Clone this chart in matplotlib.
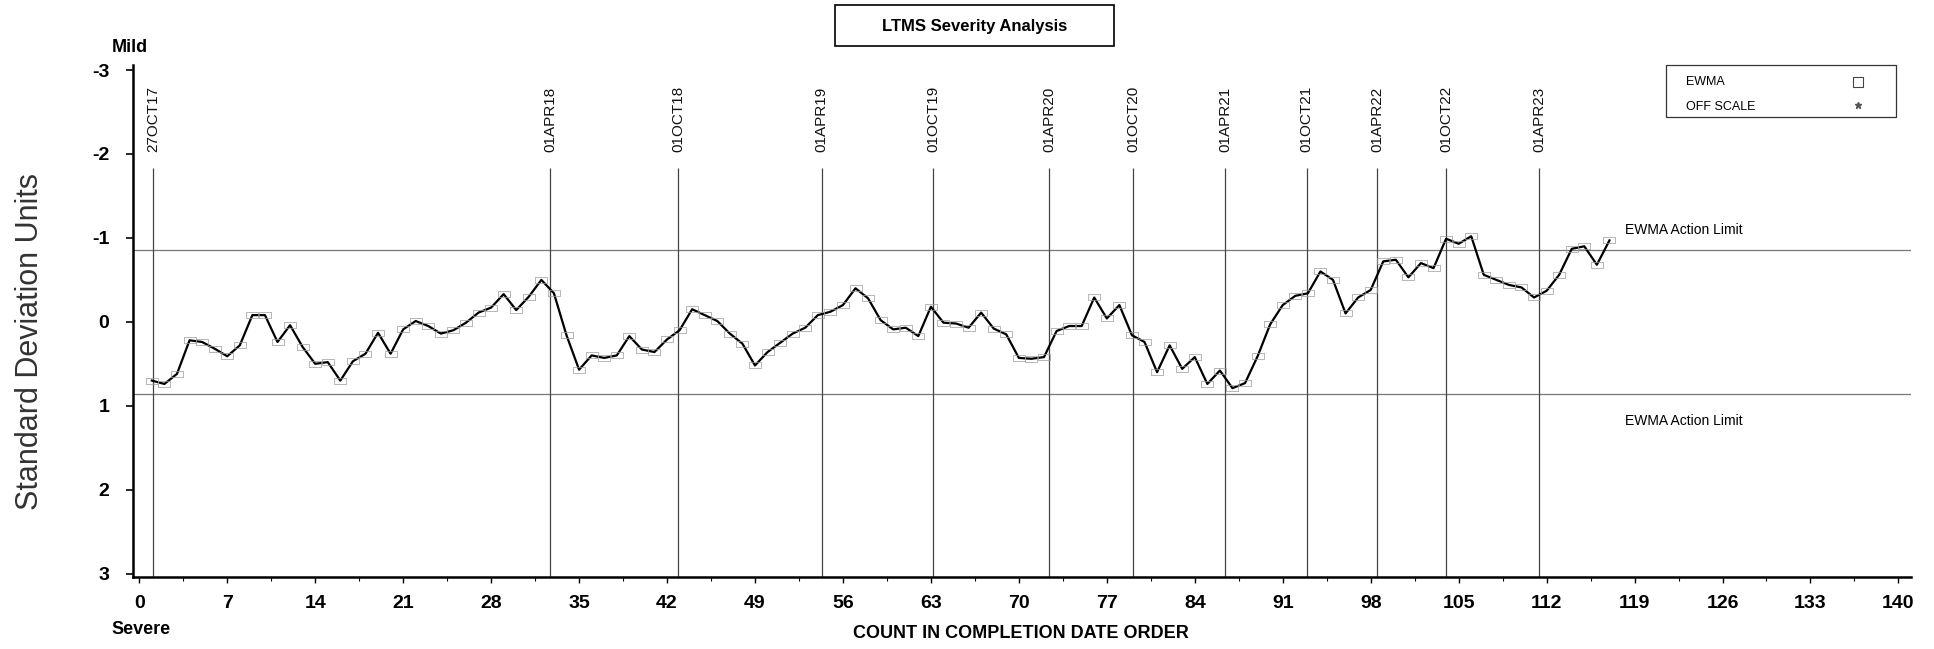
import matplotlib
matplotlib.use("Agg")
import matplotlib.pyplot as plt
from matplotlib.patches import Rectangle
from matplotlib.lines import Line2D
from matplotlib.ticker import MultipleLocator

# EWMA severity values, one per test in completion order (negative = mild side)
ewma = [0.70, 0.74, 0.62, 0.22, 0.24, 0.32, 0.41, 0.28, -0.08, -0.08,
        0.24, 0.04, 0.30, 0.50, 0.48, 0.70, 0.47, 0.38, 0.13, 0.38,
        0.09, -0.01, 0.05, 0.14, 0.10, 0.01, -0.11, -0.17, -0.33, -0.14,
        -0.30, -0.50, -0.34, 0.16, 0.57, 0.40, 0.43, 0.40, 0.17, 0.33,
        0.36, 0.21, 0.10, -0.15, -0.08, -0.01, 0.14, 0.26, 0.52, 0.36,
        0.25, 0.14, 0.07, -0.08, -0.12, -0.20, -0.40, -0.28, -0.02, 0.09,
        0.07, 0.17, -0.18, 0.01, 0.02, 0.07, -0.11, 0.08, 0.15, 0.43,
        0.44, 0.42, 0.11, 0.05, 0.05, -0.29, -0.04, -0.20, 0.16, 0.24,
        0.60, 0.28, 0.56, 0.42, 0.74, 0.58, 0.79, 0.73, 0.41, 0.03,
        -0.20, -0.31, -0.34, -0.60, -0.50, -0.10, -0.29, -0.38, -0.72, -0.74,
        -0.53, -0.70, -0.64, -0.99, -0.93, -1.02, -0.56, -0.50, -0.44, -0.41,
        -0.29, -0.37, -0.56, -0.87, -0.90, -0.68, -0.97]
counts = list(range(1, len(ewma) + 1))

# date reference lines (position in count order)
date_labels = ['27OCT17', '01APR18', '01OCT18', '01APR19', '01OCT19', '01APR20',
               '01OCT20', '01APR21', '01OCT21', '01APR22', '01OCT22', '01APR23']
date_pos = [1.1, 32.7, 42.9, 54.3, 63.2, 72.4, 79.1, 86.4, 92.9, 98.5, 104.0, 111.4]

action_limit = 0.854
x_ticks = list(range(0, 141, 7))
y_ticks = [-3, -2, -1, 0, 1, 2, 3]

plt.rcParams['font.family'] = ['Liberation Sans', 'DejaVu Sans']
narrow = ['Liberation Sans Narrow', 'Liberation Sans', 'DejaVu Sans']

W, H = 1934, 649
fig = plt.figure(figsize=(W / 100, H / 100), dpi=100)
ax = fig.add_axes([133 / W, 1 - 577 / H, (1911 - 133) / W, (577 - 65) / H])

ax.set_xlim(-0.5, 141)
ax.set_ylim(3.04, -3.06)

# action limits
for lim in (-action_limit, action_limit):
    ax.axhline(lim, color='#777777', lw=0.9, zorder=1)

# date lines and labels
ax.vlines(date_pos, -1.83, 3.04, color='#444444', lw=0.9, zorder=1)
for xp, lab in zip(date_pos, date_labels):
    ax.text(xp, -2.02, lab, rotation=90, ha='center', va='bottom',
            fontsize=11, family=narrow, color='#111111')

# EWMA series
box = [(-1, -0.55), (1, -0.55), (1, 0.55), (-1, 0.55), (-1, -0.55)]
ax.plot(counts, ewma, color='black', lw=1.6, marker=box, markersize=8,
        mfc='none', mec='#9a9a9a', mew=0.5, zorder=3)

ax.text(118.2, -1.10, 'EWMA Action Limit', fontsize=10, va='center', ha='left')
ax.text(118.2, 1.18, 'EWMA Action Limit', fontsize=10, va='center', ha='left')

# axes styling
for side in ('top', 'right'):
    ax.spines[side].set_visible(False)
for side in ('left', 'bottom'):
    ax.spines[side].set_linewidth(1.8)
ax.set_xticks(x_ticks)
ax.xaxis.set_minor_locator(MultipleLocator(3.5))
ax.set_yticks(y_ticks)
ax.set_yticklabels([str(v) for v in y_ticks])
ax.tick_params(axis='x', which='major', length=4, width=1, pad=9, labelsize=14)
ax.tick_params(axis='x', which='minor', length=3, width=0.8)
ax.tick_params(axis='y', length=5, width=1.2, pad=12, labelsize=14)
for lbl in ax.get_xticklabels() + ax.get_yticklabels():
    lbl.set_fontweight('bold')

# title box
fig.patches.append(Rectangle((835 / W, 1 - 46 / H), 279 / W, 41 / H,
                             transform=fig.transFigure, fill=False,
                             edgecolor='black', lw=1.2))
fig.text(975 / W, 1 - 26 / H, 'LTMS Severity Analysis', fontsize=12,
         fontweight='bold', ha='center', va='center')

fig.text(130 / W, 1 - 47 / H, 'Mild', fontsize=13, fontweight='bold',
         ha='center', va='center')
fig.text(141 / W, 1 - 630 / H, 'Severe', fontsize=13, fontweight='bold',
         ha='center', va='center')
fig.text(1021 / W, 1 - 633 / H, 'COUNT IN COMPLETION DATE ORDER', fontsize=13,
         fontweight='bold', ha='center', va='center')
fig.text(30 / W, 1 - 342 / H, 'Standard Deviation Units', fontsize=22,
         rotation=90, ha='center', va='center', family=narrow, color='#333333')

# legend box
fig.patches.append(Rectangle((1666 / W, 1 - 117 / H), 230 / W, 52 / H,
                             transform=fig.transFigure, fill=False,
                             edgecolor='#333333', lw=0.9))
fig.text(1686 / W, 1 - 82 / H, 'EWMA', fontsize=9, va='center', ha='left')
fig.text(1686 / W, 1 - 107 / H, 'OFF SCALE', fontsize=9, va='center', ha='left')
fig.add_artist(Line2D([1858 / W], [1 - 82 / H], transform=fig.transFigure,
                      marker='s', markersize=7, mfc='none', mec='#444444', mew=0.8))
fig.add_artist(Line2D([1858 / W], [1 - 105 / H], transform=fig.transFigure,
                      marker='*', markersize=5, color='#555555'))

fig.savefig('out.png', dpi=100)
